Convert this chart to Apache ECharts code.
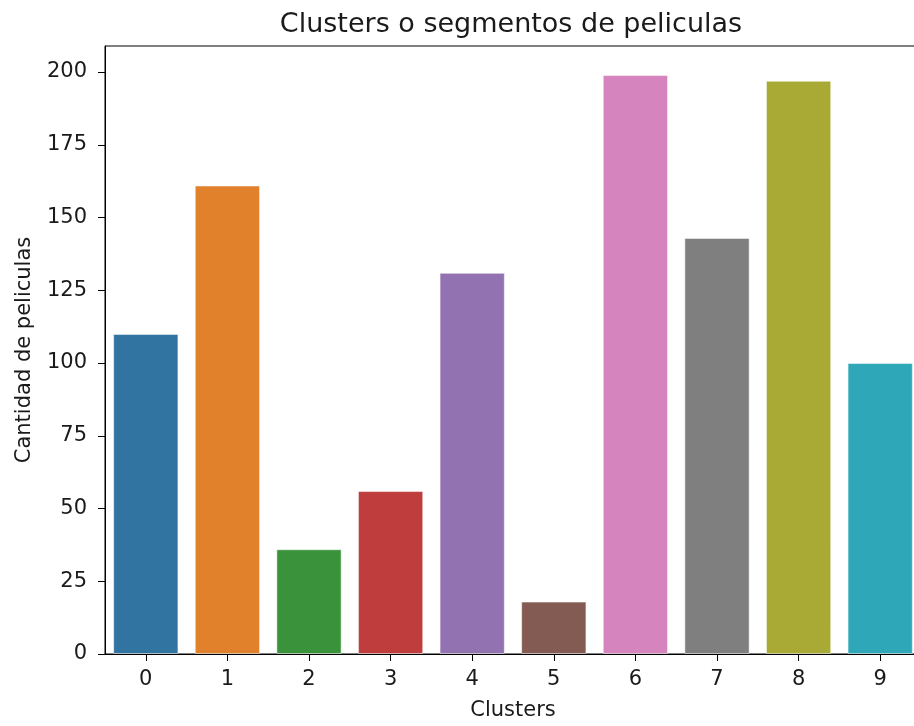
<!DOCTYPE html>
<html>
<head>
<meta charset="utf-8">
<script src="https://cdn.jsdelivr.net/npm/echarts@6/dist/echarts.min.js"></script>
<style>
html,body{margin:0;padding:0;background:#fff;overflow:hidden;width:914px;height:726px;}
#chart{width:921px;height:726px;}
</style>
</head>
<body>
<div id="chart"></div>
<script>
const categories = ['0','1','2','3','4','5','6','7','8','9'];
const counts = [110, 161, 36, 56, 131, 18, 199, 143, 197, 100];
const colors = ['#3274a1','#e1812c','#3a923a','#c03d3e','#9372b2','#845b53','#d684bd','#7f7f7f','#a9aa35','#2ea8b8'];
const yTicks = [0, 25, 50, 75, 100, 125, 150, 175, 200];
const titleText = 'Clusters o segmentos de peliculas';
const xName = 'Clusters';
const yName = 'Cantidad de peliculas';

const font = 'DejaVu Sans';
const chart = echarts.init(document.getElementById('chart'), null, {renderer: 'canvas'});
chart.setOption({
  animation: false,
  backgroundColor: '#fff',
  title: {
    text: titleText,
    left: 506, top: 6, textAlign: 'center',
    textStyle: {fontFamily: font, fontSize: 27, fontWeight: 'normal', color: '#1a1a1a'}
  },
  grid: {
    left: 105, top: 46, right: 0, bottom: 71,
    show: true, borderColor: '#000', borderWidth: 1, backgroundColor: 'transparent'
  },
  xAxis: {
    type: 'category',
    data: categories,
    name: xName,
    nameLocation: 'middle',
    nameGap: 46,
    nameTextStyle: {fontFamily: font, fontSize: 21, color: '#1a1a1a'},
    axisLine: {lineStyle: {color: '#000', width: 1}},
    axisTick: {show: true, alignWithLabel: true, length: 7, lineStyle: {color: '#000'}},
    axisLabel: {fontFamily: font, fontSize: 21, color: '#1a1a1a', margin: 15},
    splitLine: {show: false}
  },
  yAxis: {
    type: 'value',
    min: 0,
    max: 208.95,
    interval: 25,
    name: yName,
    nameLocation: 'middle',
    nameGap: 70,
    nameTextStyle: {fontFamily: font, fontSize: 21, color: '#1a1a1a'},
    axisLine: {show: true, lineStyle: {color: '#000', width: 1}},
    axisTick: {show: true, length: 7, lineStyle: {color: '#000'}, customValues: yTicks},
    axisLabel: {fontFamily: font, fontSize: 21, color: '#1a1a1a', margin: 18, customValues: yTicks},
    splitLine: {show: false}
  },
  series: [{
    type: 'bar',
    data: counts.map((v, i) => ({value: v, itemStyle: {color: colors[i]}})),
    barCategoryGap: '20%',
    itemStyle: {borderColor: 'rgba(255,255,255,0.5)', borderWidth: 1}
  }]
});
</script>
</body>
</html>
